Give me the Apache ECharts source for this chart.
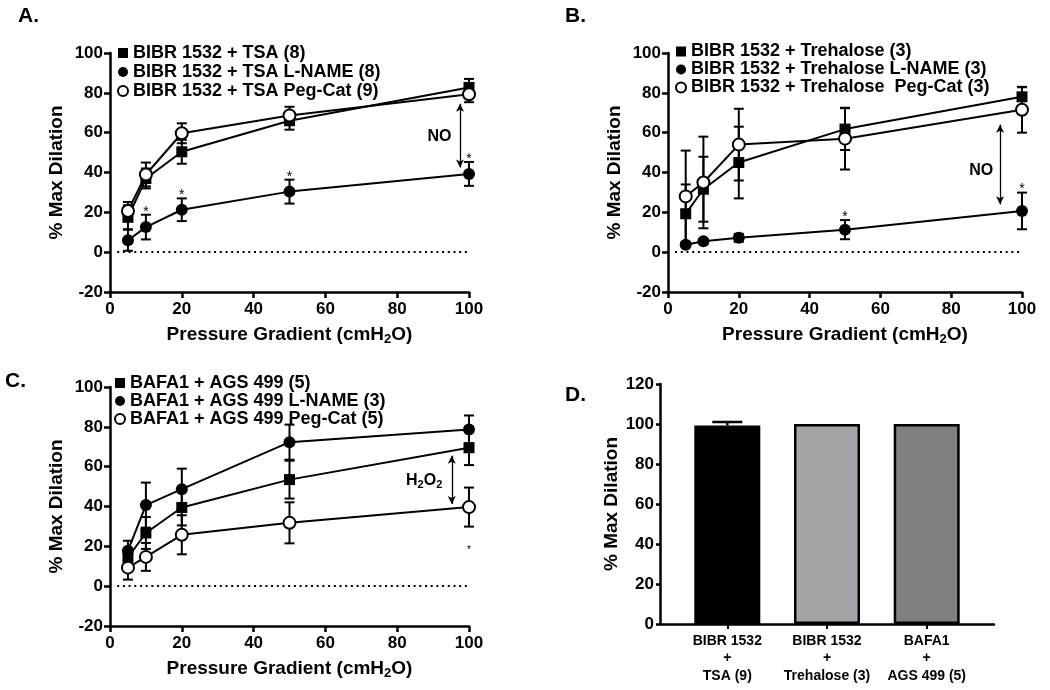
<!DOCTYPE html>
<html><head><meta charset="utf-8">
<script src="https://cdn.jsdelivr.net/npm/echarts@6/dist/echarts.min.js"></script>
<style>html,body{margin:0;padding:0;background:#fff}#c{width:1050px;height:690px}</style>
</head><body><div id="c"></div>
<script>
// ---------- DATA ----------
const pressure = [5, 10, 20, 50, 100];

// Panel A
const namesA = ['BIBR 1532 + TSA (8)', 'BIBR 1532 + TSA L-NAME (8)', 'BIBR 1532 + TSA Peg-Cat (9)'];
const aTsa = [17.5, 37, 50.4, 66, 82.7];
const aTsaErr = [6, 5, 6, 4.5, 4.3];
const aLname = [6, 12.6, 21.3, 30.4, 39.3];
const aLnameErr = [5.3, 6.2, 5.7, 6, 6];
const aLnameSig = [0, 1, 1, 1, 1];
const aPeg = [20.7, 39, 59.7, 68.6, 79.3];
const aPegErr = [4.5, 6, 5, 4.4, 4];

// Panel B
const namesB = ['BIBR 1532 + Trehalose (3)', 'BIBR 1532 + Trehalose L-NAME (3)', 'BIBR 1532 + Trehalose  Peg-Cat (3)'];
const bTre = [19.3, 31.6, 45, 61.8, 78];
const bTreErr = [14.7, 16.3, 18, 10.5, 4.8];
const bLname = [3.7, 5.5, 7.2, 11.3, 20.7];
const bLnameErr = [1, 1, 2, 4.8, 9.2];
const bLnameSig = [0, 0, 0, 1, 1];
const bPeg = [28, 35, 54, 57, 71.5];
const bPegErr = [23, 23, 18, 15.5, 11.5];

// Panel C
const namesC = ['BAFA1 + AGS 499 (5)', 'BAFA1 + AGS 499 L-NAME (3)', 'BAFA1 + AGS 499 Peg-Cat (5)'];
const cAgs = [14.5, 26.7, 39.5, 53.5, 69.5];
const cAgsErr = [4, 8, 9, 9.5, 8.7];
const cLname = [17.8, 40.7, 48.7, 72.3, 78.7];
const cLnameErr = [5, 11.3, 10.3, 8.8, 7];
const cPeg = [9.3, 14.7, 25.8, 31.8, 39.7];
const cPegErr = [6, 7, 9.8, 10.3, 9.8];
const cPegSig = [0, 0, 0, 0, -1];

// Panel D
const groupsD = ['BIBR 1532\n+\nTSA (9)', 'BIBR 1532\n+\nTrehalose (3)', 'BAFA1\n+\nAGS 499 (5)'];
const barD = [99.3, 100, 100];
const barDErr = [1.7, 0, 0];
const barColors = ['#000000', '#a4a4a9', '#808080'];

// ---------- HELPERS ----------
const FONT = 'Liberation Sans, Arial, sans-serif';
const BLACK = '#000';

function lineSeries(idx, name, ys, kind) {
  return {
    type: 'line', name, xAxisIndex: idx, yAxisIndex: idx,
    data: pressure.map((x, i) => [x, ys[i]]),
    symbol: kind === 'sq' ? 'rect' : 'circle',
    symbolSize: kind === 'sq' ? 11 : 12,
    showSymbol: true, showAllSymbol: true,
    itemStyle: kind === 'open' ? {color: '#fff', borderColor: BLACK, borderWidth: 2}
                               : {color: BLACK, borderWidth: 0},
    lineStyle: {color: BLACK, width: 2},
    z: 3, silent: true
  };
}

function errSeries(idx, ys, es, sig) {
  return {
    type: 'custom', xAxisIndex: idx, yAxisIndex: idx, z: 2, silent: true,
    data: pressure.map((x, i) => [x, ys[i], es[i], sig ? sig[i] : 0]),
    encode: {x: 0, y: 1},
    renderItem: function (params, api) {
      const x = api.value(0), y = api.value(1), e = api.value(2), s = api.value(3);
      const top = api.coord([x, y + e]), bot = api.coord([x, y - e]);
      const hw = 5, st = {stroke: BLACK, lineWidth: 2};
      const ch = [
        {type: 'line', shape: {x1: top[0], y1: top[1], x2: bot[0], y2: bot[1]}, style: st},
        {type: 'line', shape: {x1: top[0] - hw, y1: top[1], x2: top[0] + hw, y2: top[1]}, style: st},
        {type: 'line', shape: {x1: bot[0] - hw, y1: bot[1], x2: bot[0] + hw, y2: bot[1]}, style: st}
      ];
      if (s === 1) ch.push({type: 'text', x: top[0], y: top[1] - 3,
        style: {text: '*', fill: BLACK, font: '14px ' + FONT, textAlign: 'center', textVerticalAlign: 'middle'}});
      if (s === -1) ch.push({type: 'text', x: bot[0], y: bot[1] + 24,
        style: {text: '*', fill: BLACK, font: '10px ' + FONT, textAlign: 'center', textVerticalAlign: 'middle'}});
      return {type: 'group', children: ch};
    }
  };
}

function zeroLine(idx) {
  return {
    type: 'line', xAxisIndex: idx, yAxisIndex: idx, data: [], silent: true,
    markLine: {
      silent: true, symbol: ['none', 'none'], label: {show: false},
      lineStyle: {color: BLACK, width: 2, type: [2, 3.7]},
      data: [[{coord: [2, 0]}, {coord: [99.5, 0]}]]
    }
  };
}

function arrowNote(idx, x, y1, y2, tx, ty, text) {
  return {
    type: 'line', xAxisIndex: idx, yAxisIndex: idx, data: [], silent: true,
    markLine: {
      silent: true, symbol: ['arrow', 'arrow'], symbolSize: [6, 8], label: {show: false},
      lineStyle: {color: BLACK, width: 1.3, type: 'solid'},
      data: [[{coord: [x, y1]}, {coord: [x, y2]}]]
    },
    markPoint: {
      silent: true, symbol: 'rect', symbolSize: 1, itemStyle: {color: 'rgba(0,0,0,0)'},
      label: {show: true, position: 'inside', formatter: text, color: BLACK,
        fontFamily: FONT, fontWeight: 'bold', fontSize: 16,
        rich: {s: {fontFamily: FONT, fontWeight: 'bold', fontSize: 11, color: BLACK, padding: [9, 0, 0, 0]}}},
      data: [{coord: [tx, ty]}]
    }
  };
}

const grids = [
  {left: 110, top: 53, width: 359, height: 239},
  {left: 668, top: 53, width: 354, height: 239},
  {left: 110, top: 387, width: 359, height: 239},
  {left: 660, top: 384, width: 334, height: 240}
];

const axisLineStyle = {show: true, onZero: false, lineStyle: {color: BLACK, width: 2.5}};
const tickStyle = {show: true, length: 6, inside: false, lineStyle: {color: BLACK, width: 2.5}};
const tickLabel = {color: BLACK, fontFamily: FONT, fontWeight: 'bold', fontSize: 17};
const titleStyle = {color: BLACK, fontFamily: FONT, fontWeight: 'bold', fontSize: 19,
  rich: {s: {color: BLACK, fontFamily: FONT, fontWeight: 'bold', fontSize: 13, padding: [10, 0, 0, 0]}}};

function xAxisLine(idx) {
  return {
    type: 'value', gridIndex: idx, min: 0, max: 100, interval: 20,
    axisLine: axisLineStyle, axisTick: tickStyle,
    axisLabel: Object.assign({margin: 9}, tickLabel),
    splitLine: {show: false},
    name: 'Pressure Gradient (cmH{s|2}O)', nameLocation: 'middle', nameGap: 31,
    nameTextStyle: titleStyle
  };
}
function yAxisLine(idx) {
  return {
    type: 'value', gridIndex: idx, min: -20, max: 100, interval: 20,
    axisLine: axisLineStyle, axisTick: tickStyle,
    axisLabel: Object.assign({margin: 7}, tickLabel),
    splitLine: {show: false},
    name: '% Max Dilation', nameLocation: 'middle', nameGap: 44,
    nameTextStyle: titleStyle
  };
}

function legendFor(names, left, top, lh) {
  return {
    orient: 'vertical', left, top, padding: 0, itemGap: 0, itemWidth: 10, itemHeight: 10,
    selectedMode: false,
    textStyle: {color: BLACK, fontFamily: FONT, fontWeight: 'bold', fontSize: 18, lineHeight: lh},
    data: [{name: names[0], icon: 'rect'}, {name: names[1], icon: 'circle'}, {name: names[2], icon: 'circle'}]
  };
}

const panelLetters = [['A.', 18, 16.5], ['B.', 565, 16.5], ['C.', 5, 381], ['D.', 565, 395.5]];

const option = {
  animation: false,
  backgroundColor: '#fff',
  tooltip: {show: false},
  grid: grids.map(g => Object.assign({outerBoundsMode: 'none', containLabel: false}, g)),
  legend: [
    legendFor(namesA, 117, 43.5, 19),
    legendFor(namesB, 675, 42.5, 17.8),
    legendFor(namesC, 114, 374, 16)
  ],
  xAxis: [
    xAxisLine(0), xAxisLine(1), xAxisLine(2),
    {
      type: 'value', gridIndex: 3, min: -0.675, max: 2.675,
      axisLine: axisLineStyle,
      axisTick: {show: true, length: 5, customValues: [0, 1, 2], lineStyle: {color: BLACK, width: 2}},
      axisLabel: {show: true, customValues: [0, 1, 2], color: BLACK, fontFamily: FONT, fontWeight: 'bold',
        fontSize: 14, lineHeight: 17.5, margin: 8, formatter: v => groupsD[Math.round(v)]},
      splitLine: {show: false}
    }
  ],
  yAxis: [
    yAxisLine(0), yAxisLine(1), yAxisLine(2),
    {
      type: 'value', gridIndex: 3, min: 0, max: 120, interval: 20,
      axisLine: axisLineStyle, axisTick: {show: true, length: 4, lineStyle: {color: BLACK, width: 2.5}},
      axisLabel: Object.assign({margin: 6}, tickLabel),
      splitLine: {show: false},
      name: '% Max Dilation', nameLocation: 'middle', nameGap: 38,
      nameTextStyle: titleStyle
    }
  ],
  graphic: panelLetters.map(p => ({
    type: 'text', x: p[1], y: p[2],
    style: {text: p[0], fill: BLACK, font: 'bold 21px ' + FONT, textVerticalAlign: 'middle'}
  })),
  series: [
    // Panel A
    zeroLine(0),
    errSeries(0, aTsa, aTsaErr), errSeries(0, aLname, aLnameErr, aLnameSig), errSeries(0, aPeg, aPegErr),
    lineSeries(0, namesA[0], aTsa, 'sq'), lineSeries(0, namesA[1], aLname, 'fill'), lineSeries(0, namesA[2], aPeg, 'open'),
    arrowNote(0, 97.5, 74.5, 42.5, 91.8, 58, 'NO'),
    // Panel B
    zeroLine(1),
    errSeries(1, bTre, bTreErr), errSeries(1, bLname, bLnameErr, bLnameSig), errSeries(1, bPeg, bPegErr),
    lineSeries(1, namesB[0], bTre, 'sq'), lineSeries(1, namesB[1], bLname, 'fill'), lineSeries(1, namesB[2], bPeg, 'open'),
    arrowNote(1, 93.8, 64, 24, 88.5, 41, 'NO'),
    // Panel C
    zeroLine(2),
    errSeries(2, cAgs, cAgsErr), errSeries(2, cLname, cLnameErr), errSeries(2, cPeg, cPegErr, cPegSig),
    lineSeries(2, namesC[0], cAgs, 'sq'), lineSeries(2, namesC[1], cLname, 'fill'), lineSeries(2, namesC[2], cPeg, 'open'),
    arrowNote(2, 95.2, 65.5, 41.3, 87.5, 53, 'H{s|2}O{s|2}'),
    // Panel D
    {
      type: 'bar', xAxisIndex: 3, yAxisIndex: 3, barWidth: 66, silent: true, z: 2,
      data: barD.map((v, i) => ({value: [i, v], itemStyle: {color: barColors[i]}})),
      itemStyle: {borderColor: BLACK, borderWidth: 2.5}
    },
    {
      type: 'custom', xAxisIndex: 3, yAxisIndex: 3, z: 3, silent: true,
      data: barD.map((v, i) => [i, v, barDErr[i]]),
      encode: {x: 0, y: 1},
      renderItem: function (params, api) {
        const e = api.value(2);
        if (!e) return null;
        const x = api.value(0), y = api.value(1);
        const a = api.coord([x, y]), b = api.coord([x, y + e]);
        const st = {stroke: BLACK, lineWidth: 2.5};
        return {type: 'group', children: [
          {type: 'line', shape: {x1: a[0], y1: a[1], x2: b[0], y2: b[1]}, style: st},
          {type: 'line', shape: {x1: b[0] - 15, y1: b[1], x2: b[0] + 15, y2: b[1]}, style: st}
        ]};
      }
    }
  ]
};

const chart = echarts.init(document.getElementById('c'), null, {renderer: 'canvas'});
chart.setOption(option);
</script>
</body></html>
